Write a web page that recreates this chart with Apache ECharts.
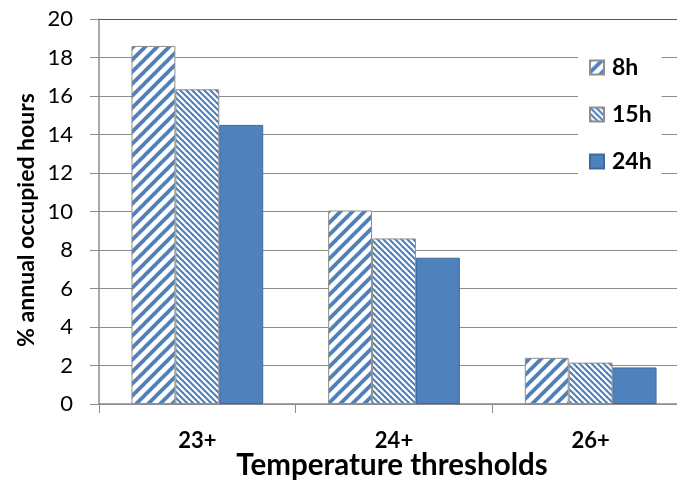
<!DOCTYPE html>
<html><head><meta charset="utf-8">
<script src="https://cdn.jsdelivr.net/npm/echarts@6/dist/echarts.min.js"></script>
<style>html,body{margin:0;padding:0;background:#fff}#c{width:677px;height:483px}</style>
</head><body><div id="c"></div>
<script>
const categories = ['23+', '24+', '26+'];
const seriesNames = ['8h', '15h', '24h'];
const values8h = [18.6, 10.05, 2.4];
const values15h = [16.35, 8.6, 2.15];
const values24h = [14.5, 7.6, 1.9];
const yTicks = { min: 0, max: 20, interval: 2 };
const xTitle = 'Temperature thresholds';
const yTitle = '% annual occupied hours';

const BLUE = '#4F81BD';
function stripe(P, w, up) {
  const c = document.createElement('canvas');
  c.width = P; c.height = P;
  const g = c.getContext('2d');
  g.fillStyle = '#fff'; g.fillRect(0, 0, P, P);
  g.strokeStyle = BLUE; g.lineWidth = w; g.lineCap = 'square';
  for (let k = -1; k <= 1; k++) {
    g.beginPath();
    if (up) { g.moveTo(k * P, P); g.lineTo((k + 1) * P, 0); }
    else { g.moveTo(k * P, 0); g.lineTo((k + 1) * P, P); }
    g.stroke();
  }
  return c;
}
const pat8 = { image: stripe(12, 3.8, true), repeat: 'repeat' };
const pat15 = { image: stripe(6, 2.1, false), repeat: 'repeat' };

const font = 'Lato, "Open Sans", sans-serif';
const chart = echarts.init(document.getElementById('c'), null, { renderer: 'canvas' });
const gridColors = ['#8c8c8c','#8c8c8c','#8c8c8c','#8c8c8c','#8c8c8c','#8c8c8c','#8c8c8c','#8c8c8c','#8c8c8c','#8c8c8c','#555555'];
chart.setOption({
  animation: false,
  textStyle: { fontFamily: font },
  grid: { left: 99, top: 19, width: 590, height: 385, containLabel: false, outerBoundsMode: 'none' },
  legend: {
    orient: 'vertical', left: 578, top: 49,
    padding: [7, 10, 12, 11],
    backgroundColor: '#fff',
    itemWidth: 14, itemHeight: 14, itemGap: 24,
    icon: 'rect',
    textStyle: { fontFamily: font, fontWeight: 'bold', fontSize: 23, color: '#000', lineHeight: 20, padding: [0, 0, 0, 3] },
    data: seriesNames
  },
  graphic: [{
    type: 'text', x: 27, y: 220, rotation: Math.PI / 2,
    style: { text: yTitle, fill: '#000', font: 'bold 23px ' + font, textAlign: 'center', textVerticalAlign: 'middle' }
  }, {
    type: 'text', x: 392, y: 465,
    style: { text: xTitle, fill: '#000', font: 'bold 29.5px ' + font, textAlign: 'center', textVerticalAlign: 'middle' }
  }],
  xAxis: {
    type: 'category', data: categories,
    axisLine: { lineStyle: { color: '#8c8c8c', width: 1.5 } },
    axisTick: { show: true, length: 9, lineStyle: { color: '#8c8c8c' } },
    axisLabel: { color: '#000', fontWeight: 'bold', fontSize: 22, margin: 26, fontFamily: font }
  },
  yAxis: {
    type: 'value', min: yTicks.min, max: yTicks.max, interval: yTicks.interval,
    axisLine: { show: true, lineStyle: { color: '#8c8c8c', width: 1.5 } },
    axisTick: { show: true, length: 9, inside: false, lineStyle: { color: '#8c8c8c' } },
    splitLine: { show: true, lineStyle: { color: gridColors, width: 1.2 } },
    axisLabel: { color: '#000', fontSize: 22, margin: 26, fontFamily: font }
  },
  series: [
    { name: seriesNames[0], type: 'bar', data: values8h, barGap: '0%', barCategoryGap: '33%',
      itemStyle: { color: pat8, borderColor: '#8f8f8f', borderWidth: 1 } },
    { name: seriesNames[1], type: 'bar', data: values15h, barGap: '0%', barCategoryGap: '33%',
      itemStyle: { color: pat15, borderColor: '#8f8f8f', borderWidth: 1 } },
    { name: seriesNames[2], type: 'bar', data: values24h, barGap: '0%', barCategoryGap: '33%',
      itemStyle: { color: BLUE, borderColor: '#3d6a9e', borderWidth: 1 } }
  ]
});
</script></body></html>
